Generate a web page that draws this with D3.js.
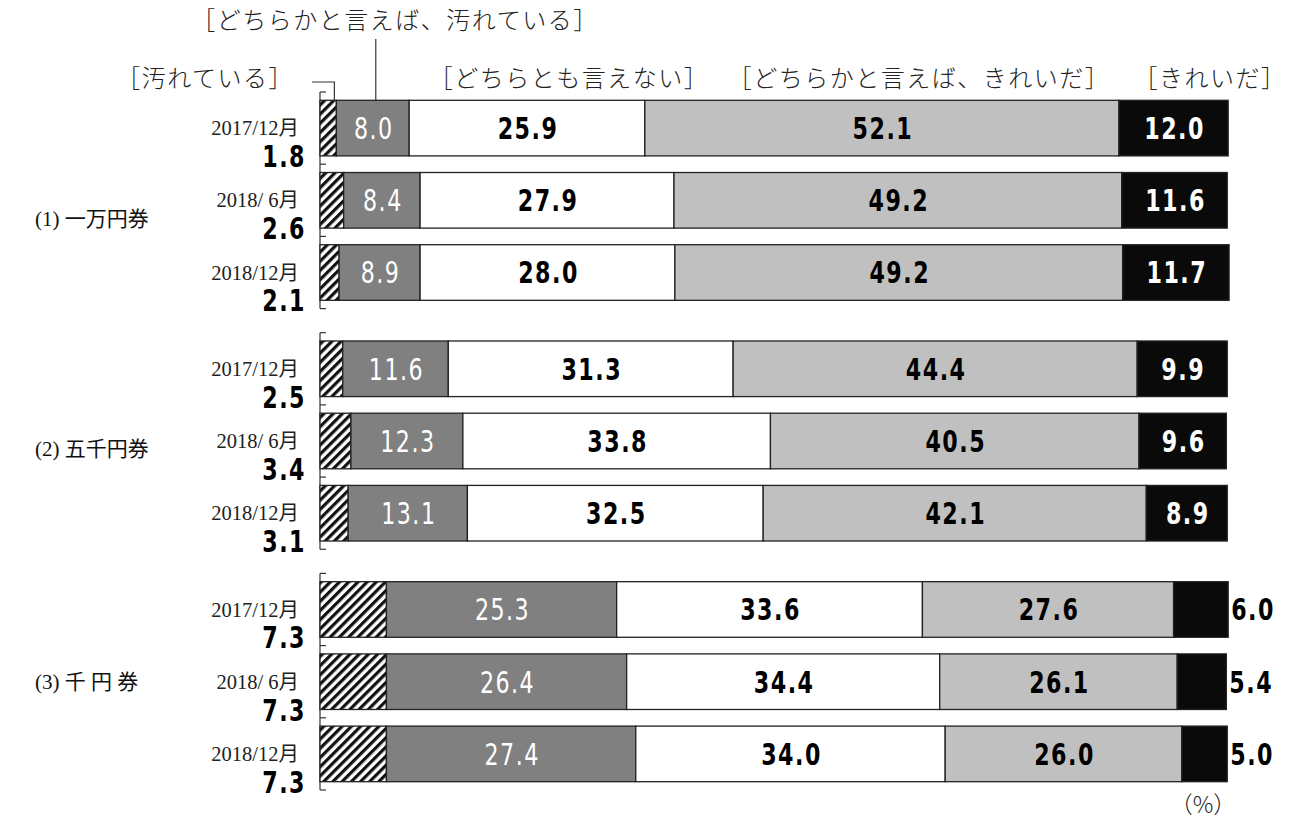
<!DOCTYPE html>
<html><head><meta charset="utf-8">
<script src="https://cdn.jsdelivr.net/npm/d3@7"></script>
<style>
html,body{margin:0;padding:0;background:#fff;}
svg{display:block;}
</style></head>
<body>
<svg id="chart" width="1298" height="823"></svg>
<script>
const groups = ["(1) 一万円券", "(2) 五千円券", "(3) 千 円 券"];
const periods = ["2017/12月", "2018/ 6月", "2018/12月"];
const categories = ["［汚れている］", "［どちらかと言えば、汚れている］", "［どちらとも言えない］", "［どちらかと言えば、きれいだ］", "［きれいだ］"];
const dirty =         [1.8, 2.6, 2.1,  2.5, 3.4, 3.1,  7.3, 7.3, 7.3];
const somewhatDirty = [8.0, 8.4, 8.9, 11.6, 12.3, 13.1, 25.3, 26.4, 27.4];
const neutral =       [25.9, 27.9, 28.0, 31.3, 33.8, 32.5, 33.6, 34.4, 34.0];
const somewhatClean = [52.1, 49.2, 49.2, 44.4, 40.5, 42.1, 27.6, 26.1, 26.0];
const clean =         [12.0, 11.6, 11.7, 9.9, 9.6, 8.9, 6.0, 5.4, 5.0];
const unitLabel = "（%）";

const series = [dirty, somewhatDirty, neutral, somewhatClean, clean];
const fills = ["url(#hatch)", "#808080", "#ffffff", "#c0c0c0", "#0a0a0a"];
const textColors = [null, "#ffffff", "#000000", "#000000", "#ffffff"];
const textWeights = [null, "normal", "bold", "bold", "bold"];

const svg = d3.select("#chart");
const defs = svg.append("defs");
const pat = defs.append("pattern").attr("id", "hatch")
  .attr("patternUnits", "userSpaceOnUse").attr("width", 6.5).attr("height", 6.5)
  .attr("patternTransform", "rotate(45)");
pat.append("rect").attr("width", 6.5).attr("height", 6.5).attr("fill", "#fff");
pat.append("line").attr("x1", 1.6).attr("y1", 0).attr("x2", 1.6).attr("y2", 6.5)
  .attr("stroke", "#111").attr("stroke-width", 3.2);

const x = d3.scaleLinear().domain([0, 100]).range([320, 1230]);
const yGroup = d3.scaleBand().domain(groups).range([92, 790]).paddingInner(0.1).paddingOuter(0);
const yRow = d3.scaleBand().domain(periods).range([0, yGroup.bandwidth()]).paddingInner(0.23).paddingOuter(0.115);

const numFont = "'DejaVu Sans', sans-serif";
const serifFont = "'Liberation Serif', 'Noto Sans CJK JP', serif";
const cjkFont = "'Noto Sans CJK JP', sans-serif";
const fmt = d3.format(".1f");
const NUM_SCALE = 0.74;

function numText(xx, yy, anchor, weight, color, txt) {
  const g = svg.append("g").attr("transform", `translate(${xx},${yy}) scale(${NUM_SCALE},1)`);
  g.append("text").attr("x", 0).attr("y", 0).attr("dy", "0.36em")
    .attr("text-anchor", anchor).attr("font-family", numFont).attr("font-size", 30)
    .attr("font-weight", weight).attr("letter-spacing", 2).attr("fill", color).text(txt);
}

const rows = [];
groups.forEach((g, gi) => periods.forEach((p, pi) => {
  const idx = gi * 3 + pi;
  let cum = 0;
  const segs = series.map((s, si) => {
    const seg = {si, v: s[idx], x0: cum, x1: cum + s[idx]};
    cum += s[idx];
    return seg;
  });
  rows.push({g, gi, p, pi, idx, segs, y: yGroup(g) + yRow(p)});
}));

const bh = yRow.bandwidth();

// Axes per group
groups.forEach(g => {
  const top = yGroup(g), bot = top + yGroup.bandwidth();
  const ax = svg.append("g").attr("stroke", "#333").attr("stroke-width", 1.2);
  ax.append("line").attr("x1", x(0)).attr("x2", x(0)).attr("y1", top).attr("y2", bot);
  const ticks = [0].concat(periods.map(p => yRow(p) + bh + yRow.step() * yRow.paddingInner() / 2));
  ticks[ticks.length - 1] = yGroup.bandwidth();
  ticks.forEach(t => ax.append("line").attr("x1", x(0)).attr("x2", x(0) + 6).attr("y1", top + t).attr("y2", top + t));
});

// Bars
const rowG = svg.selectAll("g.row").data(rows).join("g").attr("class", "row");
rowG.selectAll("rect").data(d => d.segs.map(s => Object.assign({y: d.y}, s))).join("rect")
  .attr("x", s => x(s.x0)).attr("width", s => x(s.x1) - x(s.x0))
  .attr("y", s => s.y).attr("height", bh)
  .attr("fill", s => fills[s.si]).attr("stroke", "#222").attr("stroke-width", 1.3);

// Labels
rows.forEach(r => {
  r.segs.forEach(s => {
    if (s.si === 0) return;
    const outside = (s.si === 4 && r.gi === 2);
    numText(outside ? x(s.x1) + 3 : (x(s.x0) + x(s.x1)) / 2 + 1, r.y + bh / 2,
      outside ? "start" : "middle",
      outside ? "bold" : textWeights[s.si],
      outside ? "#000" : textColors[s.si], fmt(s.v));
  });
  numText(306, r.y + bh / 2 + 28, "end", "bold", "#000", fmt(r.segs[0].v));
  svg.append("text").attr("x", 299).attr("y", r.y + bh / 2).attr("dy", "0.35em")
    .attr("text-anchor", "end").attr("font-family", serifFont).attr("font-size", 20.5)
    .attr("fill", "#222").text(r.p);
});

// Group labels
const groupOffsets = [18, 8, 0];
groups.forEach((g, gi) => {
  svg.append("text").attr("x", 35).attr("y", yGroup(g) + yGroup.bandwidth() / 2 + groupOffsets[gi]).attr("dy", "0.35em")
    .attr("font-family", serifFont).attr("font-size", 21).attr("fill", "#111").text(g);
});

// Category headers
const first = rows[0];
const headerY = 79;
const hdr = (txt, xx, yy, anchor) => svg.append("text").attr("x", xx).attr("y", yy).attr("dy", "0.35em")
  .attr("text-anchor", anchor).attr("font-family", cjkFont).attr("font-weight", 300)
  .attr("font-size", 24).attr("letter-spacing", 1.5).attr("fill", "#222").text(txt);
hdr(categories[0], 294, headerY, "end");
hdr(categories[1], 395, 21, "middle");
hdr(categories[2], 569, headerY, "middle");
hdr(categories[3], 919, headerY, "middle");
hdr(categories[4], 1210, headerY, "middle");

// Leader lines
const s0 = first.segs[0], s1 = first.segs[1];
const lx0 = x(s0.x1) - 2;
svg.append("path").attr("d", `M312,82 H${lx0} V${first.y}`).attr("fill", "none").attr("stroke", "#333").attr("stroke-width", 1.2);
const lx1 = (x(s1.x0) + x(s1.x1)) / 2 + 3;
svg.append("line").attr("x1", lx1).attr("x2", lx1).attr("y1", 39).attr("y2", first.y).attr("stroke", "#333").attr("stroke-width", 1.2);

// Unit
svg.append("text").attr("x", 1203).attr("y", 805).attr("dy", "0.35em").attr("text-anchor", "middle")
  .attr("font-family", cjkFont).attr("font-weight", 300).attr("font-size", 23).attr("fill", "#222").text(unitLabel);
</script>
</body></html>
